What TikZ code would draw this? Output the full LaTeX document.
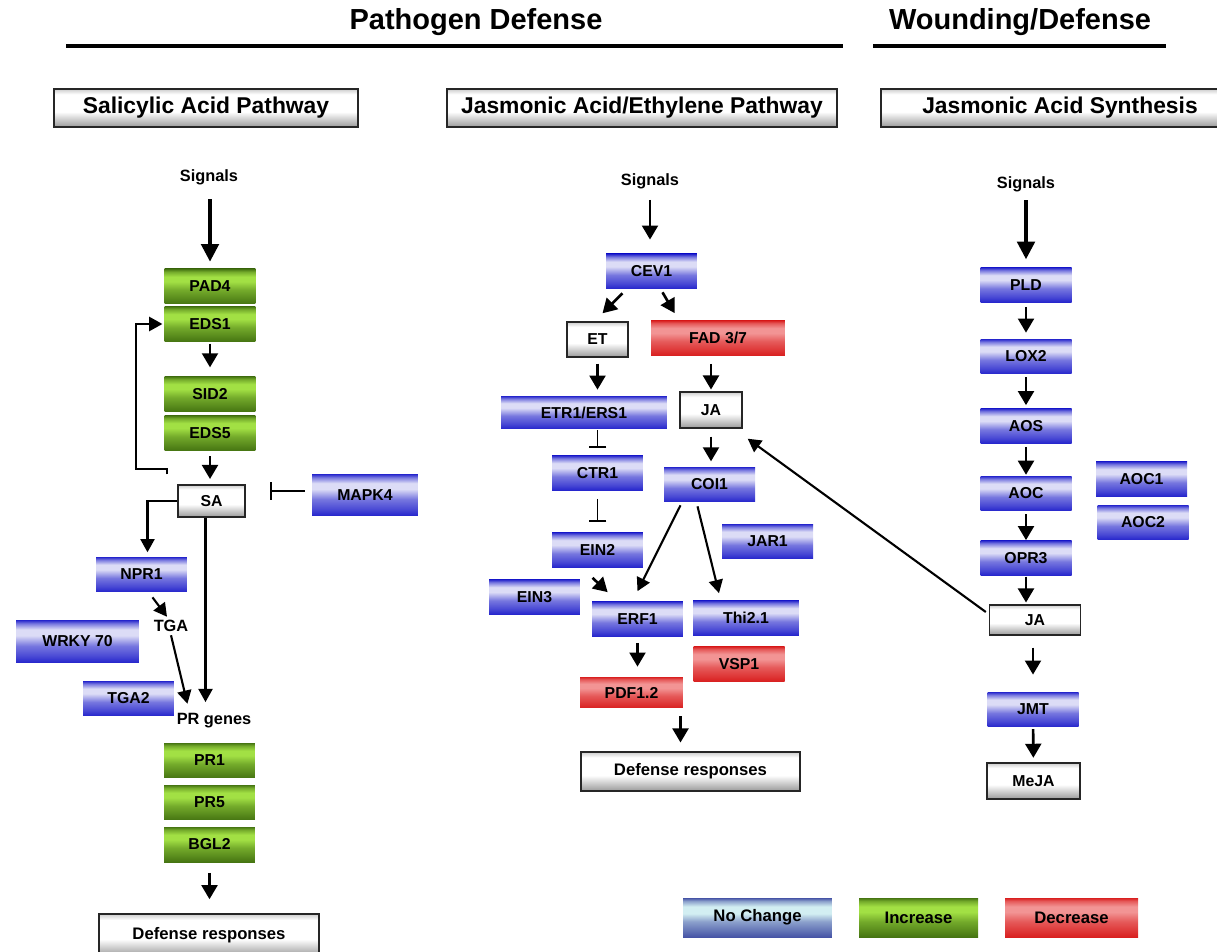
\documentclass[tikz,border=0pt]{standalone}
\usepackage{fontspec}
\setmainfont{Liberation Sans}
\usetikzlibrary{arrows.meta}

\definecolor{bxdark}{HTML}{2424CC}
\definecolor{bxlight}{HTML}{DCDCF6}
\colorlet{bxmid}{bxdark!55!bxlight}
\colorlet{bxlow}{bxdark!80!bxlight}
\definecolor{grdark}{HTML}{467512}
\definecolor{grlight}{HTML}{A2E044}
\colorlet{grmid}{grdark!50!grlight}
\colorlet{grlow}{grdark!80!grlight}
\definecolor{rddark}{HTML}{D92020}
\definecolor{rdlight}{HTML}{F29494}
\colorlet{rdmid}{rddark!50!rdlight}
\colorlet{rdlow}{rddark!80!rdlight}
\definecolor{gydark}{HTML}{9A9A9A}
\definecolor{lgdark}{HTML}{4654A6}
\definecolor{lglight}{HTML}{D2EEF2}
\colorlet{lgmid}{lgdark!50!lglight}
\colorlet{lglow}{lgdark!80!lglight}

\pgfdeclareverticalshading{nochg}{100bp}{color(0bp)=(bxdark); color(25bp)=(bxdark);
  color(33bp)=(bxlow); color(45bp)=(bxmid); color(57bp)=(bxlight); color(64bp)=(bxlight);
  color(71bp)=(bxmid); color(75bp)=(bxdark); color(100bp)=(bxdark)}
\pgfdeclareverticalshading{incr}{100bp}{color(0bp)=(grdark); color(25bp)=(grdark);
  color(33bp)=(grlow); color(45bp)=(grmid); color(57bp)=(grlight); color(64bp)=(grlight);
  color(71bp)=(grmid); color(75bp)=(grdark); color(100bp)=(grdark)}
\pgfdeclareverticalshading{decr}{100bp}{color(0bp)=(rddark); color(25bp)=(rddark);
  color(33bp)=(rdlow); color(45bp)=(rdmid); color(57bp)=(rdlight); color(64bp)=(rdlight);
  color(71bp)=(rdmid); color(75bp)=(rddark); color(100bp)=(rddark)}
\pgfdeclareverticalshading{legnc}{100bp}{color(0bp)=(lgdark); color(25bp)=(lgdark);
  color(33bp)=(lglow); color(45bp)=(lgmid); color(55bp)=(lglight); color(64bp)=(lglight);
  color(71bp)=(lgmid); color(75bp)=(lgdark); color(100bp)=(lgdark)}
\pgfdeclareverticalshading{plainbox}{100bp}{color(0bp)=(gydark); color(25bp)=(gydark);
  color(45bp)=(white); color(68bp)=(white); color(75bp)=(gydark!50); color(100bp)=(gydark!50)}

\begin{document}
\begin{tikzpicture}[x=0.02cm, y=-0.02cm,
	every node/.style={font=\bfseries\fontsize{9}{10}\selectfont},
	bx/.style={minimum width=1.82cm, minimum height=0.7cm, inner sep=0pt},
	same/.style={bx, shade, shading=nochg},
	up/.style={bx, shade, shading=incr},
	down/.style={bx, shade, shading=decr},
	plain/.style={bx, draw=black!85, line width=0.8pt, shade, shading=plainbox},
	head/.style={plain, line width=1.3pt, minimum height=0.76cm, font=\bfseries\fontsize{13}{15}\selectfont},
	lbl/.style={inner sep=0pt, text height=7pt, text depth=2pt, font=\bfseries\fontsize{9.3}{11}\selectfont},
	arr/.style={-{Triangle[length=8pt,width=9pt]}, line width=1.5pt},
	big/.style={-{Triangle[length=10pt,width=10pt]}, line width=1.9pt},
	thin/.style={-{Triangle[length=7.5pt,width=8pt]}, line width=1.2pt},
	inh/.style={-{Bar[width=10pt,line width=1pt]}, line width=1pt},
]
\useasboundingbox (0,0) rectangle (1217,952);
\clip (0,0) rectangle (1217,952);

	% titles
	\node[font=\bfseries\fontsize{16.5}{18}\selectfont] (tpath) at (476,22) {Pathogen Defense};
	\node[font=\bfseries\fontsize{16.5}{18}\selectfont] (twound) at (1020,22) {Wounding/Defense};
	\draw[line width=2.8pt] (66,46) -- (843,46);
	\draw[line width=2.8pt] (873,46) -- (1166,46);

	\node[head, minimum width=6.08cm] (hsa) at (206,108) {Salicylic Acid Pathway};
	\node[head, minimum width=7.8cm] (hjaet) at (642,108) {Jasmonic Acid/Ethylene Pathway};
	\node[head, minimum width=7.16cm] (hjas) at (1060,108) {Jasmonic Acid Synthesis};

	% salicylic acid
	\node[lbl] (sig1) at (209,177) {Signals};
	\node[up] (pad4) at (210,286.5) {PAD4};
	\node[up] (eds1) at (210,324) {EDS1};
	\node[up] (sid2) at (210,394) {SID2};
	\node[up] (eds5) at (210,433) {EDS5};
	\node[plain, minimum width=1.34cm, minimum height=0.64cm] (sa) at (211.5,501) {SA};
	\node[same, minimum width=2.12cm, minimum height=0.84cm] (mapk4) at (365,495) {MAPK4};
	\node[same] (npr1) at (141.5,574.5) {NPR1};
	\node[lbl] (tga) at (171,627) {TGA};
	\node[same, minimum width=2.46cm, minimum height=0.86cm] (wrky) at (77.5,641.5) {WRKY 70};
	\node[same] (tga2) at (128.5,698.5) {TGA2};
	\node[lbl] (prg) at (214,720) {PR genes};
	\node[up] (pr1) at (209.5,760.5) {PR1};
	\node[up] (pr5) at (209.5,802.5) {PR5};
	\node[up] (bgl2) at (209.5,844.5) {BGL2};
	\node[plain, minimum width=4.4cm, minimum height=0.84cm, font=\bfseries\fontsize{9.5}{11}\selectfont] (def1) at (209,935) {Defense responses};

	\draw[big, shorten <=8pt, shorten >=4pt] (pad4.north |- sig1.south) -- (pad4.north);
	\draw[arr, shorten <=1pt, shorten >=5pt] (eds1) -- (sid2);
	\draw[arr, shorten <=3pt, shorten >=3pt] (eds5.south) -- (eds5.south |- sa.north);
	\draw[thin, shorten >=1pt] ([shift={(-10,-10)}]sa.north west) -- ++(0,-5) -- ++(-31,0) |- (eds1.west);
	\draw[inh, shorten <=4pt, shorten >=14pt] ([shift={(0,-4)}]mapk4.west) coordinate (m4) -- (m4 -| sa.east);
	\draw[thin, shorten >=2.5pt] (sa.west) -| ([shift={(6,0)}]npr1.north);
	\coordinate (sadn) at ([shift={(-6,0)}]sa.south);
	\draw[thin, shorten >=5.5pt] (sadn) -- (sadn |- prg.north);
	\draw[thin] ([shift={(11,5)}]npr1.south) -- ([shift={(-4,-2)}]tga.north);
	\draw[thin] (tga.south) -- ([shift={(11,-8)}]prg.north west);
	\draw[arr, shorten <=6pt, shorten >=8pt] (bgl2.south) -- (bgl2.south |- def1.north);

	% jasmonic acid / ethylene
	\node[lbl] (sig2) at (650,181) {Signals};
	\node[same] (cev1) at (651.5,271.5) {CEV1};
	\node[plain, minimum width=1.22cm] (et) at (597.5,339.5) {ET};
	\node[down, minimum width=2.68cm] (fad) at (718,338) {FAD 3/7};
	\node[same, minimum width=3.32cm, minimum height=0.66cm] (etr) at (584,412.5) {ETR1/ERS1};
	\node[plain, minimum width=1.24cm, minimum height=0.72cm] (jam) at (711,410) {JA};
	\node[same] (ctr1) at (597.5,473) {CTR1};
	\node[same] (coi1) at (709.5,484.5) {COI1};
	\node[same] (ein2) at (597.5,550) {EIN2};
	\node[same] (jar1) at (767.5,541.5) {JAR1};
	\node[same] (ein3) at (534.5,597) {EIN3};
	\node[same] (erf1) at (637.5,619) {ERF1};
	\node[same, minimum width=2.12cm] (thi) at (746,618) {Thi2.1};
	\node[down] (vsp1) at (739,664) {VSP1};
	\node[down, minimum width=2.06cm, minimum height=0.62cm] (pdf) at (631.5,692.5) {PDF1.2};
	\node[plain, minimum width=4.38cm, minimum height=0.78cm, font=\bfseries\fontsize{9.5}{11}\selectfont] (def2) at (690.5,771.5) {Defense responses};

	\draw[arr, shorten <=6pt, shorten >=8pt] (sig2.south) -- (sig2.south |- cev1.north);
	\draw[arr] ([shift={(-29,4)}]cev1.south) -- ([shift={(5,-8)}]et.north);
	\draw[arr] ([shift={(11,3)}]cev1.south) -- ([shift={(24,-7)}]fad.north west);
	\draw[arr, shorten <=3.4pt, shorten >=3.4pt] (et.south) -- (et.south |- etr.north);
	\draw[arr, shorten <=4.5pt, shorten >=1pt] (jam.north |- fad.south) -- (jam.north);
	\draw[inh, shorten <=0.5pt, shorten >=4pt] (ctr1.north |- etr.south) -- (ctr1.north);
	\draw[arr, shorten <=4.5pt, shorten >=3pt] (jam.south) -- (jam.south |- coi1.north);
	\draw[inh, shorten <=4.5pt, shorten >=5.7pt] (ctr1.south) -- (ein2.north);
	\draw[arr] ([shift={(-5,10)}]ein2.south) -- ([shift={(16,-9)}]erf1.north west);
	\draw[thin] ([shift={(-29,3)}]coi1.south) -- ([shift={(0,-10)}]erf1.north);
	\draw[thin] ([shift={(-12,4)}]coi1.south) -- ([shift={(-27,-7)}]thi.north);
	\draw[arr, shorten <=3.4pt, shorten >=5.7pt] (erf1.south) -- (erf1.south |- pdf.north);
	\coordinate (d2) at ([shift={(-10,0)}]def2.north);
	\draw[arr, shorten <=4.5pt, shorten >=5pt] (d2 |- pdf.south) -- (d2);

	% jasmonic acid synthesis
	\node[lbl] (sig3) at (1026,184) {Signals};
	\node[same] (pld) at (1026,285) {PLD};
	\node[same] (lox2) at (1026,356.5) {LOX2};
	\node[same] (aos) at (1026,426) {AOS};
	\node[same] (aoc) at (1026,493.5) {AOC};
	\node[same] (aoc1) at (1141.5,479) {AOC1};
	\node[same] (aoc2) at (1143,522.5) {AOC2};
	\node[same] (opr3) at (1026,558) {OPR3};
	\node[plain, minimum height=0.6cm] (jar) at (1035,620) {JA};
	\node[same] (jmt) at (1033,709.5) {JMT};
	\node[plain, line width=1.3pt, minimum width=1.86cm, minimum height=0.72cm] (meja) at (1033.5,781) {MeJA};

	\draw[big, shorten <=4.5pt, shorten >=4.5pt] (sig3.south) -- (pld.north);
	\draw[arr, shorten <=2.3pt, shorten >=3.4pt] (pld) -- (lox2);
	\draw[arr, shorten <=1.7pt, shorten >=1.7pt] (lox2) -- (aos);
	\draw[arr, shorten <=1.7pt, shorten >=0.5pt] (aos) -- (aoc);
	\draw[arr, shorten <=1.7pt] (aoc) -- (opr3);
	\draw[arr, shorten <=0.5pt, shorten >=1pt] (opr3.south) -- (opr3.south |- jar.north);
	\draw[arr, shorten <=6.8pt, shorten >=9.7pt] (jmt.north |- jar.south) -- (jmt.north);
	\draw[arr, shorten <=1pt, shorten >=2.3pt] (jmt) -- (meja);
	\draw[thin] ([shift={(-3,-8)}]jar.west) -- ([shift={(5,10)}]jam.south east);

	% legend
	\node[bx, shade, shading=legnc, minimum width=2.98cm, minimum height=0.78cm, font=\bfseries\fontsize{9.5}{11}\selectfont] (lnc) at (757.5,917.5) {No Change};
	\node[up, minimum width=2.38cm, minimum height=0.78cm, font=\bfseries\fontsize{9.5}{11}\selectfont] (linc) at (918.5,917.5) {Increase};
	\node[down, minimum width=2.66cm, minimum height=0.78cm, font=\bfseries\fontsize{9.5}{11}\selectfont] (ldec) at (1071.5,917.5) {Decrease};

\end{tikzpicture}
\end{document}
